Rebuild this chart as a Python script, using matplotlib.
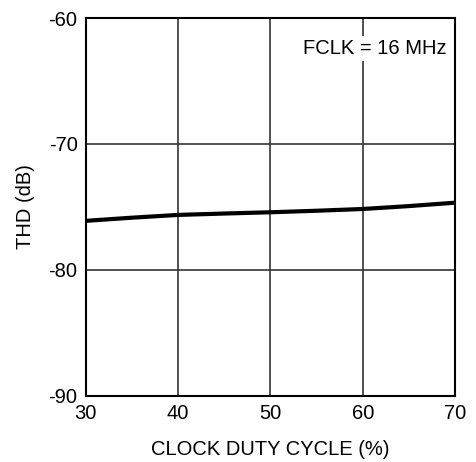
import numpy as np
import matplotlib
matplotlib.use('Agg')
import matplotlib.pyplot as plt

plt.rcParams['font.family'] = ['Liberation Sans', 'DejaVu Sans']
plt.rcParams['axes.unicode_minus'] = False

# THD vs clock duty cycle, FCLK = 16 MHz
duty = [30, 35, 40, 45, 50, 55, 60, 65, 70]
thd = [-76.1, -75.85, -75.63, -75.52, -75.42, -75.3, -75.16, -74.93, -74.66]

fig = plt.figure(figsize=(4.77, 4.62), dpi=100)
ax = fig.add_axes([0.180, 0.143, 0.774, 0.818])

ax.plot(duty, thd, color='black', linewidth=3, solid_capstyle='butt')

ax.set_xlim(30, 70)
ax.set_ylim(-90, -60)
ax.set_xticks([30, 40, 50, 60, 70])
ax.set_yticks([-90, -80, -70, -60])
ax.grid(True, color='#333333', linewidth=1.2)
ax.tick_params(length=0, labelsize=14.5, pad=6)
for s in ax.spines.values():
    s.set_linewidth(1.5)

ax.set_xlabel('CLOCK DUTY CYCLE (%)', fontsize=14.5, labelpad=12)
ax.set_ylabel('THD (dB)', fontsize=14.5, labelpad=10)
ax.text(0.978, 0.92, 'FCLK = 16 MHz', transform=ax.transAxes, ha='right', va='center',
        fontsize=14.5, bbox=dict(facecolor='white', edgecolor='none', pad=2))

fig.savefig('out.png', dpi=100)
